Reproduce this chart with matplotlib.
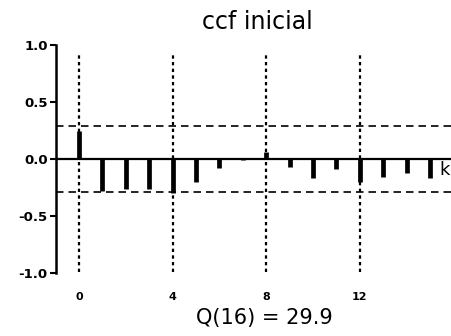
import matplotlib
matplotlib.use("Agg")
import matplotlib.pyplot as plt
import numpy as np

# valores
lags = np.arange(16)
ccf = [0.25, -0.28, -0.26, -0.26, -0.30, -0.20, -0.08, -0.01,
       0.06, -0.07, -0.17, -0.09, -0.20, -0.16, -0.12, -0.17]
band = 0.29
grid_lags = [0, 4, 8, 12]
yticks = [-1.0, -0.5, 0.0, 0.5, 1.0]
title = "ccf inicial"
q_text = "Q(16) = 29.9"

fig = plt.figure(figsize=(4.52, 3.36), dpi=100)
ax = fig.add_axes([56 / 452, 63 / 336, 396 / 452, 228 / 336])
ax.set_xlim(-0.98, 15.94)
ax.set_ylim(-1.0, 1.0)

# lineas verticales punteadas
for g in grid_lags:
    ax.plot([g, g], [-0.99, 0.93], color="black", lw=1.6,
            linestyle=(0, (1.5, 1.5)), clip_on=False)

# bandas y eje cero
ax.axhline(0, color="black", lw=1.6)
ax.axhline(band, color="black", lw=1.2, linestyle=(0, (4.5, 3)))
ax.axhline(-band, color="black", lw=1.2, linestyle=(0, (4.5, 3)))

# barras
ax.vlines(lags, 0, ccf, color="black", lw=3.4, zorder=3)

# ejes
for s in ["top", "right", "bottom"]:
    ax.spines[s].set_visible(False)
ax.spines["left"].set_linewidth(1.8)
ax.set_yticks(yticks)
ax.set_yticklabels(["%.1f" % v for v in yticks], fontsize=9.5, fontweight="bold")
ax.tick_params(axis="y", length=4, width=1.5, pad=2)
ax.set_xticks(grid_lags)
ax.set_xticklabels([str(g) for g in grid_lags], fontsize=8, fontweight="bold")
ax.tick_params(axis="x", length=0, pad=14)

fig.text(257 / 452, 1 - 22 / 336, title, ha="center", va="center", fontsize=17)
fig.text(264 / 452, 1 - 318 / 336, q_text, ha="center", va="center", fontsize=15)
fig.text(445 / 452, 1 - 170 / 336, "k", ha="center", va="center", fontsize=13)

fig.savefig("out.png", dpi=100)
